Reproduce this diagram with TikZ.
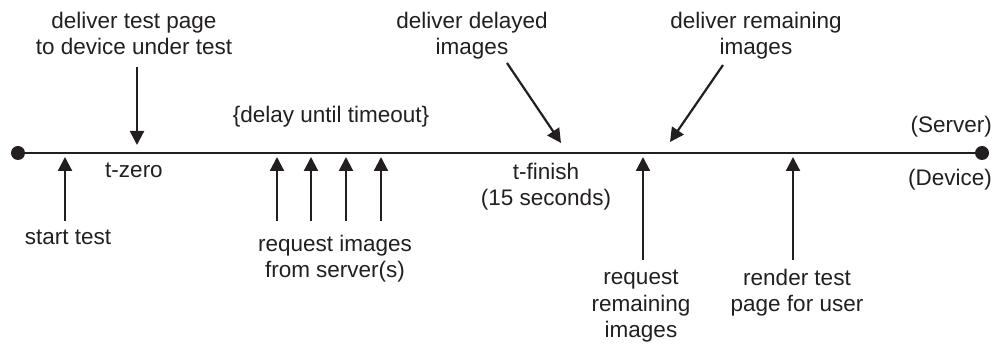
\documentclass[tikz,border=0pt]{standalone}
\usepackage{fontspec}
\setmainfont{Liberation Sans}
\usetikzlibrary{arrows.meta}
\definecolor{ink}{RGB}{35,31,32}
\begin{document}
\begin{tikzpicture}[x=1pt,y=-1pt,
  lbl/.style={font=\fontsize{22.5}{26.5}\selectfont, align=center, inner sep=0pt, text=ink},
  arr/.style={draw=ink, line width=2.2pt, -{Triangle[length=14pt,width=14pt]}},
  axis/.style={draw=ink, line width=2.2pt},
  dot/.style={circle, fill=ink, inner sep=0pt, minimum size=14pt}]
\useasboundingbox (0,0) rectangle (996,344);
% timeline
\node[dot] (L) at (18,153) {};
\node[dot] (R) at (982,153) {};
\draw[axis] (L.center) -- (R.center);
% labels (base anchor = baseline of the last line)
\node[lbl, anchor=base] (dtp) at (134,55) {deliver test page\\to device under test};
\node[lbl, anchor=base] (tzero) at (134,178) {t-zero};
\node[lbl, anchor=base] (st) at (68,245) {start test};
\node[lbl, anchor=base] (delay) at (331,123) {\{delay until timeout\}};
\node[lbl, anchor=base] (rimg) at (335,278) {request images\\from server(s)};
\node[lbl, anchor=base] (ddi) at (472,55) {deliver delayed\\images};
\node[lbl, anchor=base] (tfin) at (546,206) {t-finish\\(15 seconds)};
\node[lbl, anchor=base] (dri) at (756,55) {deliver remaining\\images};
\node[lbl, anchor=base] (rri) at (641,338) {request\\remaining\\images};
\node[lbl, anchor=base] (rtp) at (797,312) {render test\\page for user};
\node[lbl, anchor=base east] (server) at (992,133) {(Server)};
\node[lbl, anchor=base east] (device) at (992,186) {(Device)};
% arrow end points
\coordinate (a1s) at (65,221);  \coordinate (a1e) at (65,157);
\coordinate (a2s) at (277,221); \coordinate (a2e) at (277,157);
\coordinate (a3s) at (311,221); \coordinate (a3e) at (311,157);
\coordinate (a4s) at (346,221); \coordinate (a4e) at (346,157);
\coordinate (a5s) at (381,221); \coordinate (a5e) at (381,157);
\coordinate (a6s) at (643,260); \coordinate (a6e) at (643,157);
\coordinate (a7s) at (793,260); \coordinate (a7e) at (793,157);
\coordinate (d1s) at (137,67);  \coordinate (d1e) at (137,145);
\coordinate (d2s) at (507,63);  \coordinate (d2e) at (561,143);
\coordinate (d3s) at (723,65);  \coordinate (d3e) at (670,142);
% arrows
\foreach \a in {a1,a2,a3,a4,a5,a6,a7,d1,d2,d3}
  \draw[arr] (\a s) -- (\a e);
\end{tikzpicture}
\end{document}
